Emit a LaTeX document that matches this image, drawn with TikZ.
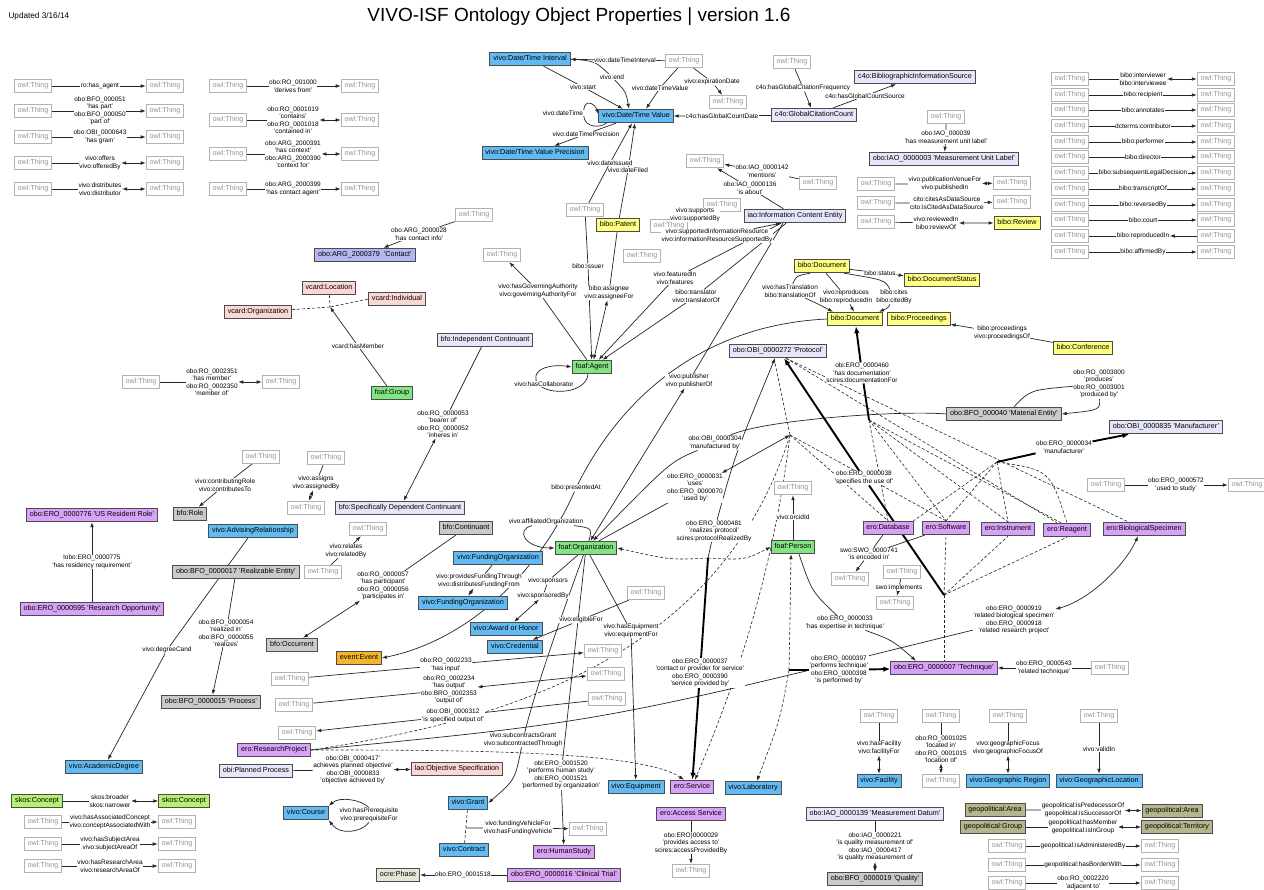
\documentclass[tikz,border=0pt]{standalone}
\usepackage{fontspec}
\setmainfont{Liberation Sans}
\usetikzlibrary{arrows.meta}
\newcommand\nf{\fontsize{7.2}{8.6}\selectfont}
\newcommand\lf{\fontsize{6.5}{7.5}\selectfont}
\definecolor{cblu}{RGB}{98,186,242}
\definecolor{clav}{RGB}{230,230,250}
\definecolor{ccon}{RGB}{182,182,242}
\definecolor{cpnk}{RGB}{250,215,210}
\definecolor{cyel}{RGB}{255,255,130}
\definecolor{cgrn}{RGB}{130,228,130}
\definecolor{cgry}{RGB}{202,202,202}
\definecolor{cpur}{RGB}{216,162,246}
\definecolor{corn}{RGB}{246,182,44}
\definecolor{colv}{RGB}{182,182,142}
\definecolor{csko}{RGB}{182,240,112}
\definecolor{cocr}{RGB}{226,230,212}
\pgfdeclarelayer{back}
\pgfdeclarelayer{bg}
\pgfsetlayers{back,bg,main}
\newcommand\thingrow[7]{%
  \node[thing] (#1a) at (#2,#4) {owl:Thing};
  \node[thing] (#1b) at (#3,#4) {owl:Thing};
  \node[lb] (#1l) at (#5,#4) {#7};
  \begin{pgfonlayer}{bg}\draw[ed,#6] (#1a) -- (#1l) -- (#1b);\end{pgfonlayer}}
\begin{document}
\begin{tikzpicture}[x=1pt,y=-1pt,
  >={Latex[length=5pt,width=3.6pt]},
  box/.style={draw=black!70, line width=0.9pt, inner xsep=3.4pt, inner ysep=0pt, minimum height=13.5pt, text height=5.3pt, text depth=1.5pt, font=\nf},
  thing/.style={box, draw=black!30, text=black!42, fill=white},
  blu/.style={box, fill=cblu}, lav/.style={box, fill=clav}, con/.style={box, fill=ccon},
  pnk/.style={box, fill=cpnk}, yel/.style={box, fill=cyel}, grn/.style={box, fill=cgrn},
  gry/.style={box, fill=cgry}, pur/.style={box, fill=cpur}, orn/.style={box, fill=corn},
  olv/.style={box, fill=colv}, sko/.style={box, fill=csko}, ocr/.style={box, fill=cocr},
  lb/.style={font=\lf, fill=white, inner sep=0.4pt, align=center},
  ed/.style={line width=0.7pt, draw=black!85},
  thk/.style={line width=1.9pt, draw=black, -{Latex[length=7pt,width=5.5pt]}},
  dsh/.style={line width=0.6pt, draw=black!85, dash pattern=on 3pt off 2pt}]
\useasboundingbox (0,0) rectangle (1264,890);
\begin{pgfonlayer}{back}\fill[white] (0,0) rectangle (1264,890);\end{pgfonlayer}

\node[font=\fontsize{19}{22}\selectfont] (title) at (579,17) {VIVO-ISF Ontology Object Properties | version 1.6};
\node[font=\fontsize{8.2}{9}\selectfont, anchor=west] (upd) at (5,16) {Updated 3/16/14};

% ---------- top-left rows
\thingrow{pa}{33}{165}{86}{100}{->}{ro:has\_agent}
\thingrow{pb}{33}{165}{111}{100}{->}{obo:BFO\_000051\\'has part'\\obo:BFO\_000050\\'part of'}
\thingrow{pc}{33}{165}{137}{100}{->}{obo:OBI\_0000643\\'has grain'}
\thingrow{pd}{33}{165}{163}{100}{<->}{vivo:offers\\vivo:offeredBy}
\thingrow{pe}{33}{165}{189}{100}{<->}{vivo:distributes\\vivo:distributor}
\thingrow{qa}{228}{360}{86}{293}{->}{obo:RO\_001000\\'derives from'}
\thingrow{qb}{228}{360}{120}{293}{<->}{obo:RO\_0001019\\'contains'\\obo:RO\_0001018\\'contained in'}
\thingrow{qc}{228}{360}{154}{293}{<->}{obo:ARG\_2000391\\'has context'\\obo:ARG\_2000390\\'context for'}
\thingrow{qd}{228}{360}{189}{293}{->}{obo:ARG\_2000399\\'has contact agent'}

% ---------- top-right bibo rows
\thingrow{ba}{1070}{1216}{79}{1143}{<->}{bibo:interviewer\\bibo:interviewee}
\thingrow{bb}{1070}{1216}{95}{1143}{->}{bibo:recipient}
\thingrow{bc}{1070}{1216}{110}{1143}{->}{bibo:annotates}
\thingrow{bd}{1070}{1216}{126}{1143}{->}{dcterms:contributor}
\thingrow{be}{1070}{1216}{142}{1143}{->}{bibo:performer}
\thingrow{bf}{1070}{1216}{157}{1143}{->}{bibo:director}
\thingrow{bg}{1070}{1216}{173}{1143}{->}{bibo:subsequentLegalDecision}
\thingrow{bh}{1070}{1216}{189}{1143}{->}{bibo:transcriptOf}
\thingrow{bi}{1070}{1216}{205}{1143}{->}{bibo:reversedBy}
\thingrow{bj}{1070}{1216}{220}{1143}{->}{bibo:court}
\thingrow{bk}{1070}{1216}{236}{1143}{<-}{bibo:reproducedIn}
\thingrow{bl}{1070}{1216}{252}{1143}{->}{bibo:affirmedBy}

% ---------- bottom-left skos rows
\node[sko] (sk1) at (37,801) {skos:Concept};
\node[sko] (sk2) at (184,801) {skos:Concept};
\node[lb] (Lsk) at (110,801) {skos:broader\\skos:narrower};
\thingrow{sa}{43}{177}{822}{110}{->}{vivo:hasAssociatedConcept\\vivo:conceptAssociatedWith}
\thingrow{sb}{43}{177}{844}{110}{->}{vivo:hasSubjectArea\\vivo:subjectAreaOf}
\thingrow{sc}{43}{177}{866}{110}{->}{vivo:hasResearchArea\\vivo:researchAreaOf}

% ---------- geopolitical
\node[olv] (ga1) at (995,810) {geopolitical:Area};
\node[olv] (ga2) at (1172,811) {geopolitical:Area};
\node[olv] (gg) at (993,827) {geopolitical:Group};
\node[olv] (gt) at (1177,827) {geopolitical:Territory};
\node[lb] (Lgpre) at (1083,810) {geopolitical:isPredecessorOf\\geopolitical:isSuccessorOf};
\node[lb] (Lgmem) at (1083,827) {geopolitical:hasMember\\geopolitical:isInGroup};
\thingrow{ga}{1007}{1160}{846}{1083}{->}{geopolitical:isAdministeredBy}
\thingrow{gb}{1007}{1160}{865}{1083}{->}{geopolitical:hasBorderWith}
\thingrow{gc}{1007}{1160}{883}{1083}{->}{obo:RO\_0002220\\'adjacent to'}

% ---------- members
\thingrow{mm}{141}{281}{382}{212}{<->}{obo:RO\_0002351\\'has member'\\obo:RO\_0002350\\'member of'}

% ---------- date/time
\node[blu] (dti) at (530,59) {vivo:Date/Time Interval};
\node[thing] (tdti) at (684,61) {owl:Thing};
\node[blu] (dtv) at (636,116) {vivo:Date/Time Value};
\node[blu] (dtvp) at (535,153) {vivo:Date/Time Value Precision};
\node[thing] (texp) at (728,102) {owl:Thing};
\node[lav] (gcc) at (814,115) {c4o:GlobalCitationCount};
\node[thing] (tgcc) at (792,62) {owl:Thing};
\node[lav] (bis) at (915,77) {c4o:BibliographicInformationSource};
\node[thing] (tmu) at (946,117) {owl:Thing};
\node[lav] (mul) at (944,159) {obo:IAO\_0000003 'Measurement Unit Label'};
\node[lb] (Ldti) at (625,60) {vivo:dateTimeInterval};
\node[lb] (Lstart) at (583,87) {vivo:start};
\node[lb] (Lend) at (612,77) {vivo:end};
\node[lb] (Ldtval) at (660,88) {vivo:dateTimeValue};
\node[lb] (Lexp) at (712,82) {vivo:expirationDate};
\node[lb] (Ldt) at (563,113) {vivo:dateTime};
\node[lb] (Lprec) at (586,134) {vivo:dateTimePrecision};
\node[lb] (Lgcd) at (722,116) {c4o:hasGlobalCountDate};
\node[lb] (Lgcf) at (803,88) {c4o:hasGlobalCitationFrequency};
\node[lb] (Lgcs) at (865,96) {c4o:hasGlobalCountSource};
\node[lb] (Lmu) at (946,137) {obo:IAO\_000039\\'has measurement unit label'};

% ---------- pub venue rows
\node[thing] (tpv1) at (876,184) {owl:Thing};
\node[thing] (tpv2) at (1012,183) {owl:Thing};
\node[lb] (Lpv) at (945,184) {vivo:publicationVenueFor\\vivo:publishedIn};
\node[thing] (tcd1) at (876,203) {owl:Thing};
\node[thing] (tcd2) at (1012,202) {owl:Thing};
\node[lb] (Lcd) at (947,203) {cito:citesAsDataSource\\cito:isCitedAsDataSource};
\node[thing] (trv) at (876,222) {owl:Thing};
\node[yel] (review) at (1017,223) {bibo:Review};
\node[lb] (Lrv) at (936,223) {vivo:reviewedIn\\bibo:reviewOf};

% ---------- ICE
\node[thing] (tabout) at (705,161) {owl:Thing};
\node[thing] (tment) at (818,183) {owl:Thing};
\node[lav] (ice) at (795,216) {iao:Information Content Entity};
\node[lb] (Lment) at (762,171) {obo:IAO\_0000142\\'mentions'};
\node[lb] (Labout) at (750,188) {obo:IAO\_0000136\\'is about'};
\node[thing] (tsup) at (722,205) {owl:Thing};
\node[thing] (tsir) at (669,226) {owl:Thing};
\node[lb] (Lsup) at (695,215) {vivo:supports\\vivo:supportedBy};
\node[thing] (tsir2) at (642,256) {owl:Thing};
\node[lb] (Lsir) at (717,236) {vivo:supportedInformationResource\\vivo:informationResourceSupportedBy};
\node[lb] (Lfeat) at (675,278) {vivo:featuredIn\\vivo:features};
\node[lb] (Ltrans) at (696,296) {bibo:translator\\vivo:translatorOf};
\node[lb] (Lpub) at (689,381) {vivo:publisher\\vivo:publisherOf};

% ---------- patent / agent
\node[thing] (tpat) at (585,210) {owl:Thing};
\node[yel] (patent) at (618,225) {bibo:Patent};
\node[lb] (Ldi) at (610,163) {vivo:dateIssued};
\node[lb] (Ldf) at (628,170) {vivo:dateFiled};
\node[grn] (agent) at (592,367) {foaf:Agent};
\node[lb] (Liss) at (588,266) {bibo:issuer};
\node[lb] (Lasg) at (609,293) {bibo:assignee\\vivo:assigneeFor};
\node[thing] (tgov) at (502,255) {owl:Thing};
\node[lb] (Lgov) at (538,291) {vivo:hasGoverningAuthority\\vivo:governingAuthorityFor};
\node[lb] (Lcol) at (544,384) {vivo:hasCollaborator};
\node[thing] (tci) at (474,215) {owl:Thing};
\node[con] (contact) at (365,255) {obo:ARG\_2000379~~'Contact'};
\node[lb] (Lci) at (419,234) {obo:ARG\_2000028\\'has contact info'};

% ---------- vcard
\node[pnk] (vloc) at (329,288) {vcard:Location};
\node[pnk] (vind) at (397,299) {vcard:Individual};
\node[pnk] (vorg) at (258,312) {vcard:Organization};
\coordinate (jv) at (330,307);
\node[grn] (fgroup) at (392,393) {foaf:Group};
\node[lb] (Lhm) at (358,346) {vcard:hasMember};

% ---------- continuants
\node[lav] (bic) at (485,340) {bfo:Independent Continuant};
\node[lav] (bsdc) at (400,508) {bfo:Specifically Dependent Continuant};
\node[lb] (Lbear) at (443,424) {obo:RO\_0000053\\'bearer of'\\obo:RO\_0000052\\'inheres in'};
\node[thing] (tcr) at (261,457) {owl:Thing};
\node[gry] (brole) at (190,514) {bfo:Role};
\node[lb] (Lcr) at (225,485) {vivo:contributingRole\\vivo:contributesTo};
\node[thing] (tas1) at (326,458) {owl:Thing};
\node[thing] (tas2) at (306,508) {owl:Thing};
\node[lb] (Las) at (316,483) {vivo:assigns\\vivo:assignedBy};
\node[blu] (adv) at (253,531) {vivo:AdvisingRelationship};
\node[gry] (real) at (236,572) {obo:BFO\_0000017 'Realizable Entity'};
\node[thing] (trel1) at (323,572) {owl:Thing};
\node[thing] (trel2) at (368,529) {owl:Thing};
\node[lb] (Lrel) at (346,551) {vivo:relates\\vivo:relatedBy};
\node[gry] (bcont) at (466,528) {bfo:Continuant};
\node[gry] (bocc) at (292,645) {bfo:Occurrent};
\node[lb] (Lpart) at (383,586) {obo:RO\_0000057\\'has participant'\\obo:RO\_0000056\\'participates in'};
\node[pur] (usres) at (92,515) {obo:ERO\_0000776 'US Resident Role'};
\node[pur] (resopp) at (92,609) {obo:ERO\_0000595 'Research Opportunity'};
\node[lb] (Lres) at (92,562) {lobo:ERO\_0000775\\'has residency requirement'};
\node[blu] (acad) at (104,767) {vivo:AcademicDegree};
\node[lb] (Ldeg) at (167,650) {vivo:degreeCand};
\node[gry] (proc) at (211,702) {obo:BFO\_0000015 'Process'};
\node[lb] (Lrlz) at (226,633) {obo:BFO\_0000054\\'realized in'\\obo:BFO\_0000055\\'realizes'};

% ---------- process rows
\node[thing] (th1) at (290,679) {owl:Thing};
\node[thing] (th2) at (294,705) {owl:Thing};
\node[thing] (th3) at (297,733) {owl:Thing};
\node[thing] (tin) at (603,651) {owl:Thing};
\node[thing] (tout) at (606,674) {owl:Thing};
\node[thing] (tspec) at (607,699) {owl:Thing};
\node[lb] (Lin) at (446,665) {obo:RO\_0002233\\'has input'};
\node[lb] (Lout) at (449,690) {obo:RO\_0002234\\'has output'\\obo:BRO\_0002353\\'output of'};
\node[lb] (Lspec) at (453,716) {obo:OBI\_0000312\\'is specified output of'};
\node[pur] (resproj) at (274,750) {ero:ResearchProject};
\node[lav] (pproc) at (256,771) {obi:Planned Process};
\node[pnk] (objspec) at (457,769) {lao:Objective Specification};
\node[lb] (Lach) at (353,770) {obo:OBI\_0000417'\\achieves planned objective'\\obo:OBI\_0000833\\'objective achieved by'};
\node[blu] (course) at (306,813) {vivo:Course};
\node[lb] (Lpre) at (369,815) {vivo:hasPrerequisite\\vivo:prerequisiteFor};

% ---------- organization area
\node[orn] (event) at (359,658) {event:Event};
\node[blu] (fo1) at (498,558) {vivo:FundingOrganization};
\node[blu] (fo2) at (463,603) {vivo:FundingOrganization};
\node[lb] (Lfund) at (479,581) {vivo:providesFundingThrough\\vivo:distributesFundingFrom};
\node[grn] (forg) at (586,548) {foaf:Organization};
\node[lb] (Laff) at (546,522) {vivo:affiliatedOrganization};
\node[lb] (Lpres) at (576,488) {bibo:presentedAt};
\node[blu] (award) at (506,629) {vivo:Award or Honor};
\node[blu] (cred) at (515,647) {vivo:Credential};
\node[lb] (Lspo) at (548,581) {vivo:sponsors};
\node[lb] (Lspb) at (543,596) {vivo:sponsoredBy};
\node[thing] (telig) at (646,593) {owl:Thing};
\node[lb] (Lelig) at (581,620) {vivo:eligibleFor};
\node[blu] (equip) at (636,787) {vivo:Equipment};
\node[lb] (Leq) at (631,631) {vivo:hasEquipment\\vivo:equipmentFor};
\node[blu] (grant) at (468,803) {vivo:Grant};
\node[blu] (contract) at (464,850) {vivo:Contract};
\coordinate (jg) at (466,828);
\node[thing] (tfv) at (588,829) {owl:Thing};
\node[lb] (Lfv) at (518,828) {vivo:fundingVehicleFor\\vivo:hasFundingVehicle};
\node[lb] (Lsub) at (523,740) {vivo:subcontractsGrant\\vivo:subcontractedThrough};
\node[pur] (hstudy) at (564,852) {ero:HumanStudy};
\node[lb] (Lhs) at (561,775) {obi:ERO\_0001520\\'performs human study'\\obi:ERO\_0001521\\'performed by organization'};
\node[ocr] (phase) at (398,875) {ocre:Phase};
\node[pur] (ctrial) at (564,875) {obo:ERO\_0000016 'Clinical Trial'};
\node[lb] (Lct) at (463,875) {obo:ERO\_0001518};
\node[pur] (service) at (692,787) {ero:Service};
\node[blu] (lab) at (753,788) {vivo:Laboratory};
\node[pur] (access) at (691,814) {ero:Access Service};
\node[thing] (tacc) at (691,871) {owl:Thing};
\node[lb] (Lacc) at (691,843) {obo:ERO)0000029\\'provides access to'\\scires:accessProvidedBy};

% ---------- documents, protocol
\node[grn] (person) at (793,547) {foaf:Person};
\node[thing] (torc) at (793,488) {owl:Thing};
\node[lb] (Lorc) at (793,517) {vivo:orcidId};
\node[lav] (protocol) at (778,351) {obo:OBI\_0000272 'Protocol'};
\node[yel] (bdoc) at (822,266) {bibo:Document};
\node[yel] (dstat) at (942,280) {bibo:DocumentStatus};
\node[yel] (bdoc2) at (855,319) {bibo:Document};
\node[yel] (procs) at (919,319) {bibo:Proceedings};
\node[yel] (conf) at (1083,348) {bibo:Conference};
\node[lb] (Lstat) at (880,273) {bibo:status};
\node[lb] (Ltr) at (790,291) {vivo:hasTranslation\\bibo:translationOf};
\node[lb] (Lrep) at (846,297) {vivo:reproduces\\bibo:reproducedIn};
\node[lb] (Lcite) at (894,297) {bibo:cites\\bibo:citedBy};
\node[lb] (Lproc) at (1002,333) {bibo:proceedings\\vivo:proceedingsOf};
\node[gry] (mat) at (1004,414) {obo:BFO\_000040 'Material Entity'};
\node[lav] (manuf) at (1166,427) {obo:OBI\_0000835 'Manufacturer'};
\node[lb] (Lprod) at (1099,384) {obo:RO\_0003000\\'produces'\\obo:RO\_0003001\\'produced by'};
\node[pur] (db) at (888,528) {ero:Database};
\node[pur] (sw) at (946,528) {ero:Software};
\node[pur] (instr) at (1008,529) {ero:Instrument};
\node[pur] (reag) at (1067,530) {ero:Reagent};
\node[pur] (bspec) at (1144,529) {ero:BiologicalSpecimen};
\thingrow{us}{1106}{1247}{485}{1176}{->}{obo:ERO\_0000572\\'used to study'}
\node[thing] (tenc) at (850,579) {owl:Thing};
\node[lb] (Lenc) at (869,554) {swo:SWO\_0000741\\'is encoded in'};
\node[thing] (timp1) at (902,572) {owl:Thing};
\node[thing] (timp2) at (895,603) {owl:Thing};
\node[lb] (Limp) at (899,588) {swo:implements};
\node[pur] (tech) at (944,668) {obo:ERO\_0000007 'Technique'};
\node[thing] (trt) at (1110,668) {owl:Thing};
\node[lb] (Lrt) at (1044,668) {obo:ERO\_0000543\\'related technique'};
\node[lb] (Lexpt) at (845,623) {obo:ERO\_0000033\\'has expertise in technique'};
\node[lb] (Lperf) at (839,670) {obo:ERO\_0000397\\'performs technique'\\obo:ERO\_0000398\\'is performed by'};
\node[lb] (Lbio) at (1014,620) {obo:ERO\_0000919\\'related biological specimen'\\obo:ERO\_0000918\\'related research project'};
\node[lb] (Ldoc) at (862,373) {obi:ERO\_0000460\\'has documentation'\\scires:documentationFor};
\node[lb] (Lsuse) at (864,478) {obo:ERO\_0000038\\'specifies the use of'};
\node[lb] (Lmanu) at (1064,447) {obo:ERO\_0000034\\'manufacturer'};
\node[lb] (Luses) at (695,488) {obo:ERO\_0000031\\'uses'\\obo:ERO\_0000070\\'used by'};
\node[lb] (Lmby) at (715,443) {obo:OBI\_0000304\\'manufactured by'};
\node[lb] (Lrp) at (714,531) {obo:ERO\_0000481\\'realizes protocol'\\scires:protocolRealizedBy};
\node[lb] (Lcps) at (700,673) {obo:ERO\_0000037\\'contact or provider for service'\\obo:ERO\_0000390\\'service provided by'};
\coordinate (J1) at (790,435);
\coordinate (J2) at (869,420);
\coordinate (J3) at (997,462);
\coordinate (J4) at (944,595);
\coordinate (U1) at (708,558);
\coordinate (jp) at (789,670);

% ---------- facility, geo, measurement
\node[thing] (tfac) at (879,716) {owl:Thing};
\node[blu] (fac) at (879,781) {vivo:Facility};
\node[lb] (Lfac) at (879,748) {vivo:hasFacility\\vivo:facilityFor};
\node[thing] (tloc1) at (941,716) {owl:Thing};
\node[thing] (tloc2) at (941,781) {owl:Thing};
\node[lb] (Lloc) at (941,749) {obo:RO\_0001025\\'located in'\\obo:RO\_0001015\\'location of'};
\node[thing] (tgeo) at (1008,716) {owl:Thing};
\node[blu] (georeg) at (1008,781) {vivo:Geographic Region};
\node[lb] (Lgeo) at (1008,748) {vivo:geographicFocus\\vivo:geographicFocusOf};
\node[thing] (tval) at (1099,716) {owl:Thing};
\node[blu] (geoloc) at (1099,781) {vivo:GeographicLocation};
\node[lb] (Lval) at (1099,749) {vivo:validIn};
\node[lav] (mdat) at (875,814) {obo:IAO\_0000139 'Measurement Datum'};
\node[gry] (qual) at (875,879) {obo:BFO\_0000019 'Quality'};
\node[lb] (Lqual) at (875,847) {obo:IAO\_0000221\\'is quality measurement of'\\obo:IAO\_0000417\\'is quality measurement of};

% ================= edges
\begin{pgfonlayer}{bg}
\begin{scope}[ed]
\draw[<->] (sk1) -- (Lsk) -- (sk2);
\draw[<->] (ga1) -- (Lgpre) -- (ga2);
\draw[<->] (gg) -- (Lgmem) -- (gt);
\draw[->] (tdti) -- (Ldti) -- (dti);
\draw[->] (dti) -- (Lstart) -- (dtv);
\draw[->] (dti.east) .. controls (595,61) .. (Lend) .. controls (626,92) .. ([xshift=-7pt]dtv.north);
\draw[->] (tdti) -- (Ldtval) -- ([xshift=10pt]dtv.north);
\draw[->] (tdti) -- (Lexp) -- (texp);
\draw[->] (Ldt.north east) .. controls (585,98) and (595,104) .. ([yshift=2pt]dtv.west);
\draw (Ldt.south east) .. controls (585,128) and (600,128) .. ([xshift=8pt]dtv.south west);
\draw[->] (dtv) -- (Lprec) -- (dtvp);
\draw[->] (gcc) -- (Lgcd) -- (dtv);
\draw[->] (tgcc) -- (Lgcf) -- (gcc);
\draw[->] (gcc) -- (Lgcs) -- (bis);
\draw[->] (tmu) -- (Lmu) -- (mul);
\draw[<->] (tpv1) -- (Lpv) -- (tpv2);
\draw[->] (tcd1) -- (Lcd) -- (tcd2);
\draw[<->] (trv) -- (Lrv) -- (review);
\draw[->] (tment) -- (Lment) -- (tabout);
\draw[->] (ice) -- (Labout) -- (tabout);
\draw[->] (Lsir) -- ([xshift=-14pt]ice.south);
\draw[->] (ice) -- (Lfeat) -- (agent);
\draw[->] (ice) -- (Ltrans) -- (agent);
\draw[<->] ([xshift=-12pt]ice.south) -- (Lpub) -- (forg);
\draw[->] (tpat) -- (Ldi) -- (dtv);
\draw[->] (patent) -- (Ldf) -- (dtv);
\draw[->] (tpat) -- (Liss) -- (agent);
\draw[<->] (patent) -- (Lasg) -- (agent);
\draw[->] (agent) -- (Lgov) -- (tgov);
\draw[->] ([xshift=-4pt]agent.south) .. controls (586,396) and (540,396) .. (536,380) .. controls (533,368) and (552,364) .. (agent.west);
\draw[->] (tci) -- (Lci) -- (contact);
\draw[dsh] (vloc) -- (jv);
\draw[dsh] (vind.west) -- (jv);
\draw[dsh] (vorg) -- (jv);
\draw[->] (fgroup) -- (Lhm) -- (jv);
\draw[<->] (bic) -- (Lbear) -- (bsdc);
\draw[->] (tcr) -- (Lcr) -- (brole);
\draw[<->] (tas1) -- (Las) -- (tas2);
\draw[->] (trel1) -- (Lrel) -- (trel2);
\draw[<->] (bcont) -- (Lpart) -- (bocc);
\draw[->] (resopp) -- (Lres) -- (usres);
\draw[->] (adv) -- (Ldeg) -- (acad);
\draw[->] (real) -- (Lrlz) -- (proc);
\draw[->] (th1) -- (Lin) -- (tin);
\draw[<->] (th2) -- (Lout) -- (tout);
\draw[->] (tspec) -- (Lspec) -- (th3);
\draw[<->] (pproc) -- (Lach) -- (objspec);
\draw[->] (Lpre.north) .. controls (362,800) and (340,796) .. (course.north east);
\draw[->] (Lpre.south) .. controls (362,832) and (340,836) .. (course.south east);
\draw[<->] (fo1) -- (Lfund) -- (fo2);
\draw[->] ([xshift=3pt]forg.north) .. controls (592,528) .. (Laff) .. controls (515,530) and (525,548) .. (forg.west);
\draw[->] (bdoc2.west) .. controls (700,325) and (620,400) .. (Lpres) .. controls (540,570) and (470,640) .. (event.east);
\draw[<->] (forg) -- (Lspo) -- (Lspb) -- (award);
\draw[->] (telig) -- (Lelig) -- (cred);
\draw[->] (forg) -- (Leq) -- (equip);
\draw[dsh] (grant) -- (contract);
\draw[->] (jg) -- (Lfv) -- (tfv);
\draw[->] (forg) .. controls (560,620) and (535,690) .. (Lsub) .. controls (515,780) .. (grant.east);
\draw[->] (forg) -- (Lhs) -- (hstudy);
\draw[->] (ctrial) -- (Lct) -- (phase);
\draw[->] (access) -- (Lacc) -- (tacc);
\draw[->] (person) -- (Lorc) -- (torc);
\draw[->] (bdoc) -- (Lstat) -- (dstat);
\draw[->] ([xshift=-12pt]bdoc.south) .. controls (796,276) .. (Ltr) .. controls (818,304) .. ([xshift=-22pt]bdoc2.north);
\draw[->] ([xshift=4pt]bdoc.south) -- (Lrep) -- ([xshift=-1pt]bdoc2.north);
\draw[->] ([xshift=22pt]bdoc.south) .. controls (885,280) .. (Lcite) .. controls (888,308) .. ([xshift=24pt]bdoc2.north);
\draw[->] (conf) -- (Lproc) -- (procs);
\draw[->] ([xshift=10pt]mat.north) .. controls (1030,390) .. (Lprod) .. controls (1100,410) .. (mat.east);
\draw[->] (db) -- (Lenc) -- (tenc);
\draw (sw) -- (Lenc);
\draw[->] (timp1) -- (Limp) -- (timp2);
\draw[->] (trt) -- (Lrt) -- (tech);
\draw[->] ([xshift=6pt]person.south) .. controls (812,592) .. (Lexpt) .. controls (892,640) .. ([xshift=-28pt]tech.north);
\draw[<->] (resproj.east) .. controls (600,722) .. (Lbio) .. controls (1090,600) and (1125,565) .. ([xshift=-6pt]bspec.south);
\draw[<->] (tfac) -- (Lfac) -- (fac);
\draw[<->] (tloc1) -- (Lloc) -- (tloc2);
\draw[<->] (tgeo) -- (Lgeo) -- (georeg);
\draw[->] (tval) -- (Lval) -- (geoloc);
\draw[<->] (mdat) -- (Lqual) -- (qual);
% central junction lines
\draw[<->] (forg) -- (Luses) -- (J1);
\draw[->] (mat.west) .. controls (900,410) and (760,420) .. (Lmby) .. controls (670,462) .. (forg);
\draw[->] (U1) -- (Lrp) .. controls (735,455) .. ([xshift=-3pt]protocol.south);
\draw[dsh,->] (U1) .. controls (670,560) .. (forg.east);
\draw[dsh,->] (U1) .. controls (745,560) .. (person.west);
\draw[dsh,->] (jp) .. controls (790,620) .. ([xshift=-2pt]person.south);
\draw[dsh,->] (jp) .. controls (780,720) .. ([xshift=4pt]lab.north);
\draw[dsh,->] (J1) .. controls (770,600) and (720,720) .. ([xshift=3pt]service.north);
\draw[dsh] (resproj.east) .. controls (500,722) and (720,660) .. (J1);
\draw[dsh,->] (resproj.east) .. controls (450,750) and (640,750) .. ([xshift=-8pt]service.north);
\draw[dsh] (J1) -- ([xshift=-4pt]protocol.south);
\draw[dsh] (J1) -- (db.north);
\draw[dsh] (J1) -- (sw.north);
\draw[dsh] (J2) -- (db.north);
\draw[dsh] (J2) -- (sw.north);
\draw[dsh] (J2) -- (instr.north);
\draw[dsh] (J2) -- ([xshift=-6pt]reag.north);
\draw[dsh] ([xshift=8pt]protocol.south) -- ([xshift=-10pt]reag.north);
\draw[dsh] ([xshift=8pt]protocol.south) -- ([xshift=-16pt]bspec.north);
\draw[dsh] (J3) -- (db.north east);
\draw[dsh] (J3) -- (sw.north);
\draw[dsh] (J3) -- (instr.north);
\draw[dsh] (J3) .. controls (1050,470) .. (reag.north);
\draw[dsh] (J4) -- (sw.south);
\draw[dsh] (J4) -- (instr.south);
\draw[dsh] (J4) -- (reag.south);
\draw[dsh] (J4) -- (tech.north);
\end{scope}
\draw[thk] (J2) -- (Ldoc) -- (bdoc2);
\draw[thk] (J4) -- (Lsuse) -- ([xshift=6pt]protocol.south);
\draw[thk] (J3) -- (Lmanu) -- (manuf);
\draw[thk] (U1) -- (Lcps) -- (service);
\draw[thk] (jp) -- (Lperf) -- (tech);
\end{pgfonlayer}
\end{tikzpicture}
\end{document}
